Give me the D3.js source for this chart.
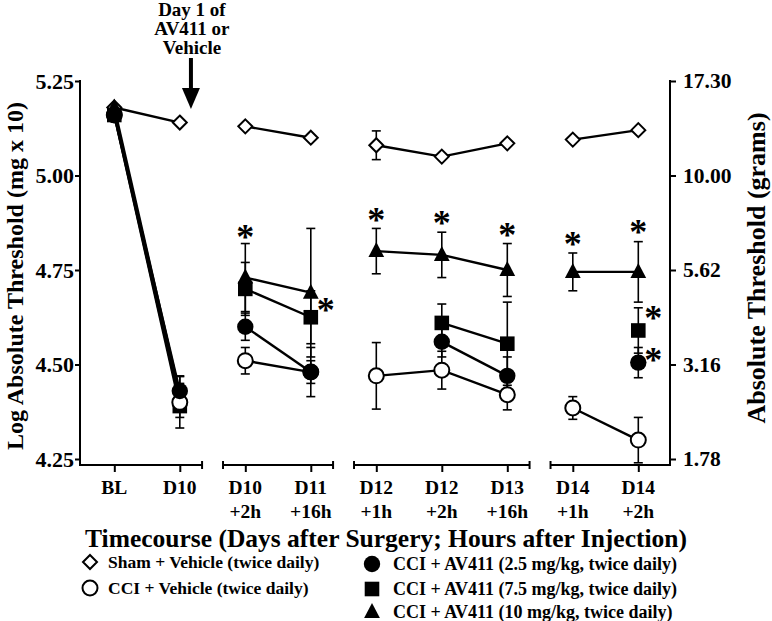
<!DOCTYPE html>
<html><head><meta charset="utf-8">
<script src="https://cdn.jsdelivr.net/npm/d3@7"></script>
<style>
body{margin:0;background:#fff}
text{font-family:"Liberation Serif","Times New Roman",serif;font-weight:bold;fill:#000}
</style>
</head><body><svg id="c" width="772" height="621"></svg>
<script>
// ---- data ----
const categories = ["BL","D10","D10\n+2h","D11\n+16h","D12\n+1h","D12\n+2h","D13\n+16h","D14\n+1h","D14\n+2h"];
const segments = [[0,1],[2,3],[4,5,6],[7,8]];
const leftTicks = [4.25,4.50,4.75,5.00,5.25];
const rightTickLabels = ["1.78","3.16","5.62","10.00","17.30"];

const shamMean = [5.18,5.14,5.13,5.10,5.08,5.05,5.085,5.095,5.12];
const shamErr  = [0,0,0,0,0.038,0,0,0,0];
const vehMean  = [5.16,4.40,4.51,4.48,4.47,4.485,4.42,4.385,4.30];
const vehErr   = [0,0.068,0.035,0.065,0.088,0.05,0.04,0.03,0.06];
const av25Mean = [5.16,4.43,4.60,4.48,null,4.56,4.47,null,4.505];
const av25Err  = [0,0.04,0.036,0.03,null,0.04,0.05,null,0.04];
const av75Mean = [5.16,4.39,4.70,4.625,null,4.61,4.555,null,4.59];
const av75Err  = [0,0.03,0.07,0.07,null,0.05,0.11,null,0.06];
const av10Mean = [5.18,4.42,4.73,4.69,4.80,4.79,4.75,4.745,4.745];
const av10Err  = [0,0.03,0.09,0.17,0.06,0.06,0.07,0.05,0.08];

const seriesNames = ["Sham + Vehicle (twice daily)","CCI + Vehicle (twice daily)",
  "CCI + AV411 (2.5 mg/kg, twice daily)","CCI + AV411 (7.5 mg/kg, twice daily)","CCI + AV411 (10 mg/kg, twice daily)"];

// significance stars: category index, value, side
const starCat   = [2,3,4,5,6,7,8,8,8];
const starValue = [4.851,4.657,4.895,4.888,4.856,4.832,4.865,4.636,4.525];
const starSide  = ["above","right","above","above","above","above","above","right","right"];

const annotationLines = ["Day 1 of","AV411 or","Vehicle"];
const annotationCat = 1.17;

// ---- build ----
const series = [
  {name:seriesNames[0], mean:shamMean, err:shamErr, shape:"diamond", fill:"#fff"},
  {name:seriesNames[1], mean:vehMean, err:vehErr, shape:"circle", fill:"#fff"},
  {name:seriesNames[3], mean:av75Mean, err:av75Err, shape:"square", fill:"#000"},
  {name:seriesNames[4], mean:av10Mean, err:av10Err, shape:"triangle", fill:"#000"},
  {name:seriesNames[2], mean:av25Mean, err:av25Err, shape:"circle", fill:"#000"}
];
// marker drawing order: sham, square, triangle, open circle, filled circle
const drawOrder = [0,2,3,1,4];

const svg = d3.select("#c");
const y = d3.scaleLinear().domain([4.25,5.25]).range([459,81]);
const x = d3.scaleLinear().domain([0,8]).range([114.3,638.3]);
const xLeft = 80, xRight = 670, yBase = 465;

function shapePath(shape, s){
  if(shape==="diamond") return `M0,${-s}L${s},0L0,${s}L${-s},0Z`;
  if(shape==="square") return `M${-s},${-s}H${s}V${s}H${-s}Z`;
  return `M0,${-s*1.2}L${s*1.05},${s*0.8}L${-s*1.05},${s*0.8}Z`;
}
function drawMarker(g, shape, fill, cx, cy){
  if(shape==="circle"){
    g.append("circle").attr("cx",cx).attr("cy",cy)
      .attr("r", fill==="#fff"?7.5:8.2)
      .attr("fill",fill).attr("stroke","#000").attr("stroke-width",fill==="#fff"?2:0);
  } else {
    const s = shape==="diamond"?7:(shape==="square"?7.3:7.5);
    g.append("path").attr("transform",`translate(${cx},${cy})`)
      .attr("d",shapePath(shape,s))
      .attr("fill",fill).attr("stroke","#000")
      .attr("stroke-width",shape==="diamond"?2:0).attr("stroke-linejoin","miter");
  }
}

// left axis
const gL = svg.append("g").attr("transform",`translate(${xLeft},0)`)
  .call(d3.axisLeft(y).tickValues(leftTicks).tickFormat(d3.format(".2f")).tickSize(5).tickPadding(1));
gL.select(".domain").remove();
gL.append("line").attr("y1",y(5.25)-1).attr("y2",yBase+1).attr("stroke","#000").attr("stroke-width",2);
gL.selectAll(".tick line").attr("stroke-width",2);
gL.selectAll(".tick text").style("font-size","22px").style("font-family","Liberation Serif").style("font-weight","bold");

// right axis
const gR = svg.append("g").attr("transform",`translate(${xRight},0)`)
  .call(d3.axisRight(y).tickValues(leftTicks).tickFormat((d,i)=>rightTickLabels[i]).tickSize(6).tickPadding(7));
gR.select(".domain").remove();
gR.append("line").attr("y1",y(5.25)-1).attr("y2",yBase+1).attr("stroke","#000").attr("stroke-width",2);
gR.selectAll(".tick line").attr("stroke-width",2);
gR.selectAll(".tick text").style("font-size","21.5px").style("font-family","Liberation Serif").style("font-weight","bold");

// x axis segments
const pad = 0.34;
segments.forEach((seg,si)=>{
  const first = si===0, last = si===segments.length-1;
  const x0 = first ? xLeft : x(seg[0]-pad);
  const x1 = last ? xRight : x(seg[seg.length-1]+pad);
  const g = svg.append("g");
  g.append("line").attr("x1",x0).attr("x2",x1).attr("y1",yBase).attr("y2",yBase)
    .attr("stroke","#000").attr("stroke-width",2);
  if(!first) g.append("line").attr("x1",x0).attr("x2",x0).attr("y1",yBase-4).attr("y2",yBase+4).attr("stroke","#000").attr("stroke-width",2);
  if(!last) g.append("line").attr("x1",x1).attr("x2",x1).attr("y1",yBase-4).attr("y2",yBase+4).attr("stroke","#000").attr("stroke-width",2);
  const ax = svg.append("g").attr("transform",`translate(0,${yBase})`)
    .call(d3.axisBottom(x).tickValues(seg).tickSize(7).tickFormat(""));
  ax.select(".domain").remove();
  ax.selectAll(".tick line").attr("stroke-width",2);
  seg.forEach(i=>{
    const parts = categories[i].split("\n");
    const t = svg.append("text").attr("x",x(i)).attr("y",494).attr("text-anchor","middle").style("font-size","19.5px");
    parts.forEach((p,k)=>t.append("tspan").attr("x",x(i)).attr("dy",k===0?0:24).text(p));
  });
});

// axis titles
svg.append("text").attr("transform",`translate(23,276) rotate(-90)`)
  .attr("text-anchor","middle").style("font-size","24px").text("Log Absolute Threshold (mg x 10)");
svg.append("text").attr("transform",`translate(765,268) rotate(-90)`)
  .attr("text-anchor","middle").style("font-size","26px").text("Absolute Threshold (grams)");
svg.append("text").attr("x",386).attr("y",547).attr("text-anchor","middle").style("font-size","25.5px")
  .text("Timecourse (Days after Surgery; Hours after Injection)");

// annotation
const ax0 = x(annotationCat);
annotationLines.forEach((l,i)=>svg.append("text").attr("x",ax0+1).attr("y",15.5+i*19)
  .attr("text-anchor","middle").style("font-size","19px").text(l));
svg.append("line").attr("x1",ax0).attr("x2",ax0).attr("y1",58).attr("y2",92).attr("stroke","#000").attr("stroke-width",4);
svg.append("path").attr("d",`M${ax0-9},88L${ax0+9},88L${ax0},${y(5.176)}Z`).attr("fill","#000");

// lines
const gLines = svg.append("g");
series.forEach(s=>{
  segments.forEach(seg=>{
    const pts = seg.filter(i=>s.mean[i]!=null).map(i=>[x(i),y(s.mean[i])]);
    if(pts.length>1) gLines.append("path").attr("d",d3.line()(pts)).attr("fill","none")
      .attr("stroke","#000").attr("stroke-width",2.4);
  });
});
// error bars
const gErr = svg.append("g");
series.forEach(s=>{
  s.mean.forEach((m,i)=>{
    const e = s.err[i];
    if(m==null||!e) return;
    const cx = x(i), yt = y(m+e), yb = y(m-e);
    gErr.append("line").attr("x1",cx).attr("x2",cx).attr("y1",yt).attr("y2",yb).attr("stroke","#000").attr("stroke-width",1.6);
    [yt,yb].forEach(yy=>gErr.append("line").attr("x1",cx-4.5).attr("x2",cx+4.5).attr("y1",yy).attr("y2",yy).attr("stroke","#000").attr("stroke-width",1.6));
  });
});
// markers
const gM = svg.append("g");
drawOrder.forEach(k=>{
  const s = series[k];
  s.mean.forEach((m,i)=>{ if(m!=null) drawMarker(gM,s.shape,s.fill,x(i),y(m)); });
});

// stars
starCat.forEach((c,i)=>{
  const cx = x(c) + (starSide[i]==="right"?15:0);
  const cy = y(starValue[i]);
  svg.append("text").attr("x",cx).attr("y",cy+17).attr("text-anchor","middle").style("font-size","36px").text("*");
});

// legend
const legend = [
  {k:0, lx:90, ly:562},
  {k:1, lx:90, ly:588},
  {k:4, lx:372, ly:564},
  {k:2, lx:372, ly:589},
  {k:3, lx:372, ly:612}
];
legend.forEach(d=>{
  const s = series[d.k];
  drawMarker(svg,s.shape,s.fill,d.lx,d.ly);
  svg.append("text").attr("x",d.lx+(d.lx<200?18:21)).attr("y",d.ly+6)
    .style("font-size",d.lx<200?"17.5px":"18px").text(s.name);
});
</script></body></html>
